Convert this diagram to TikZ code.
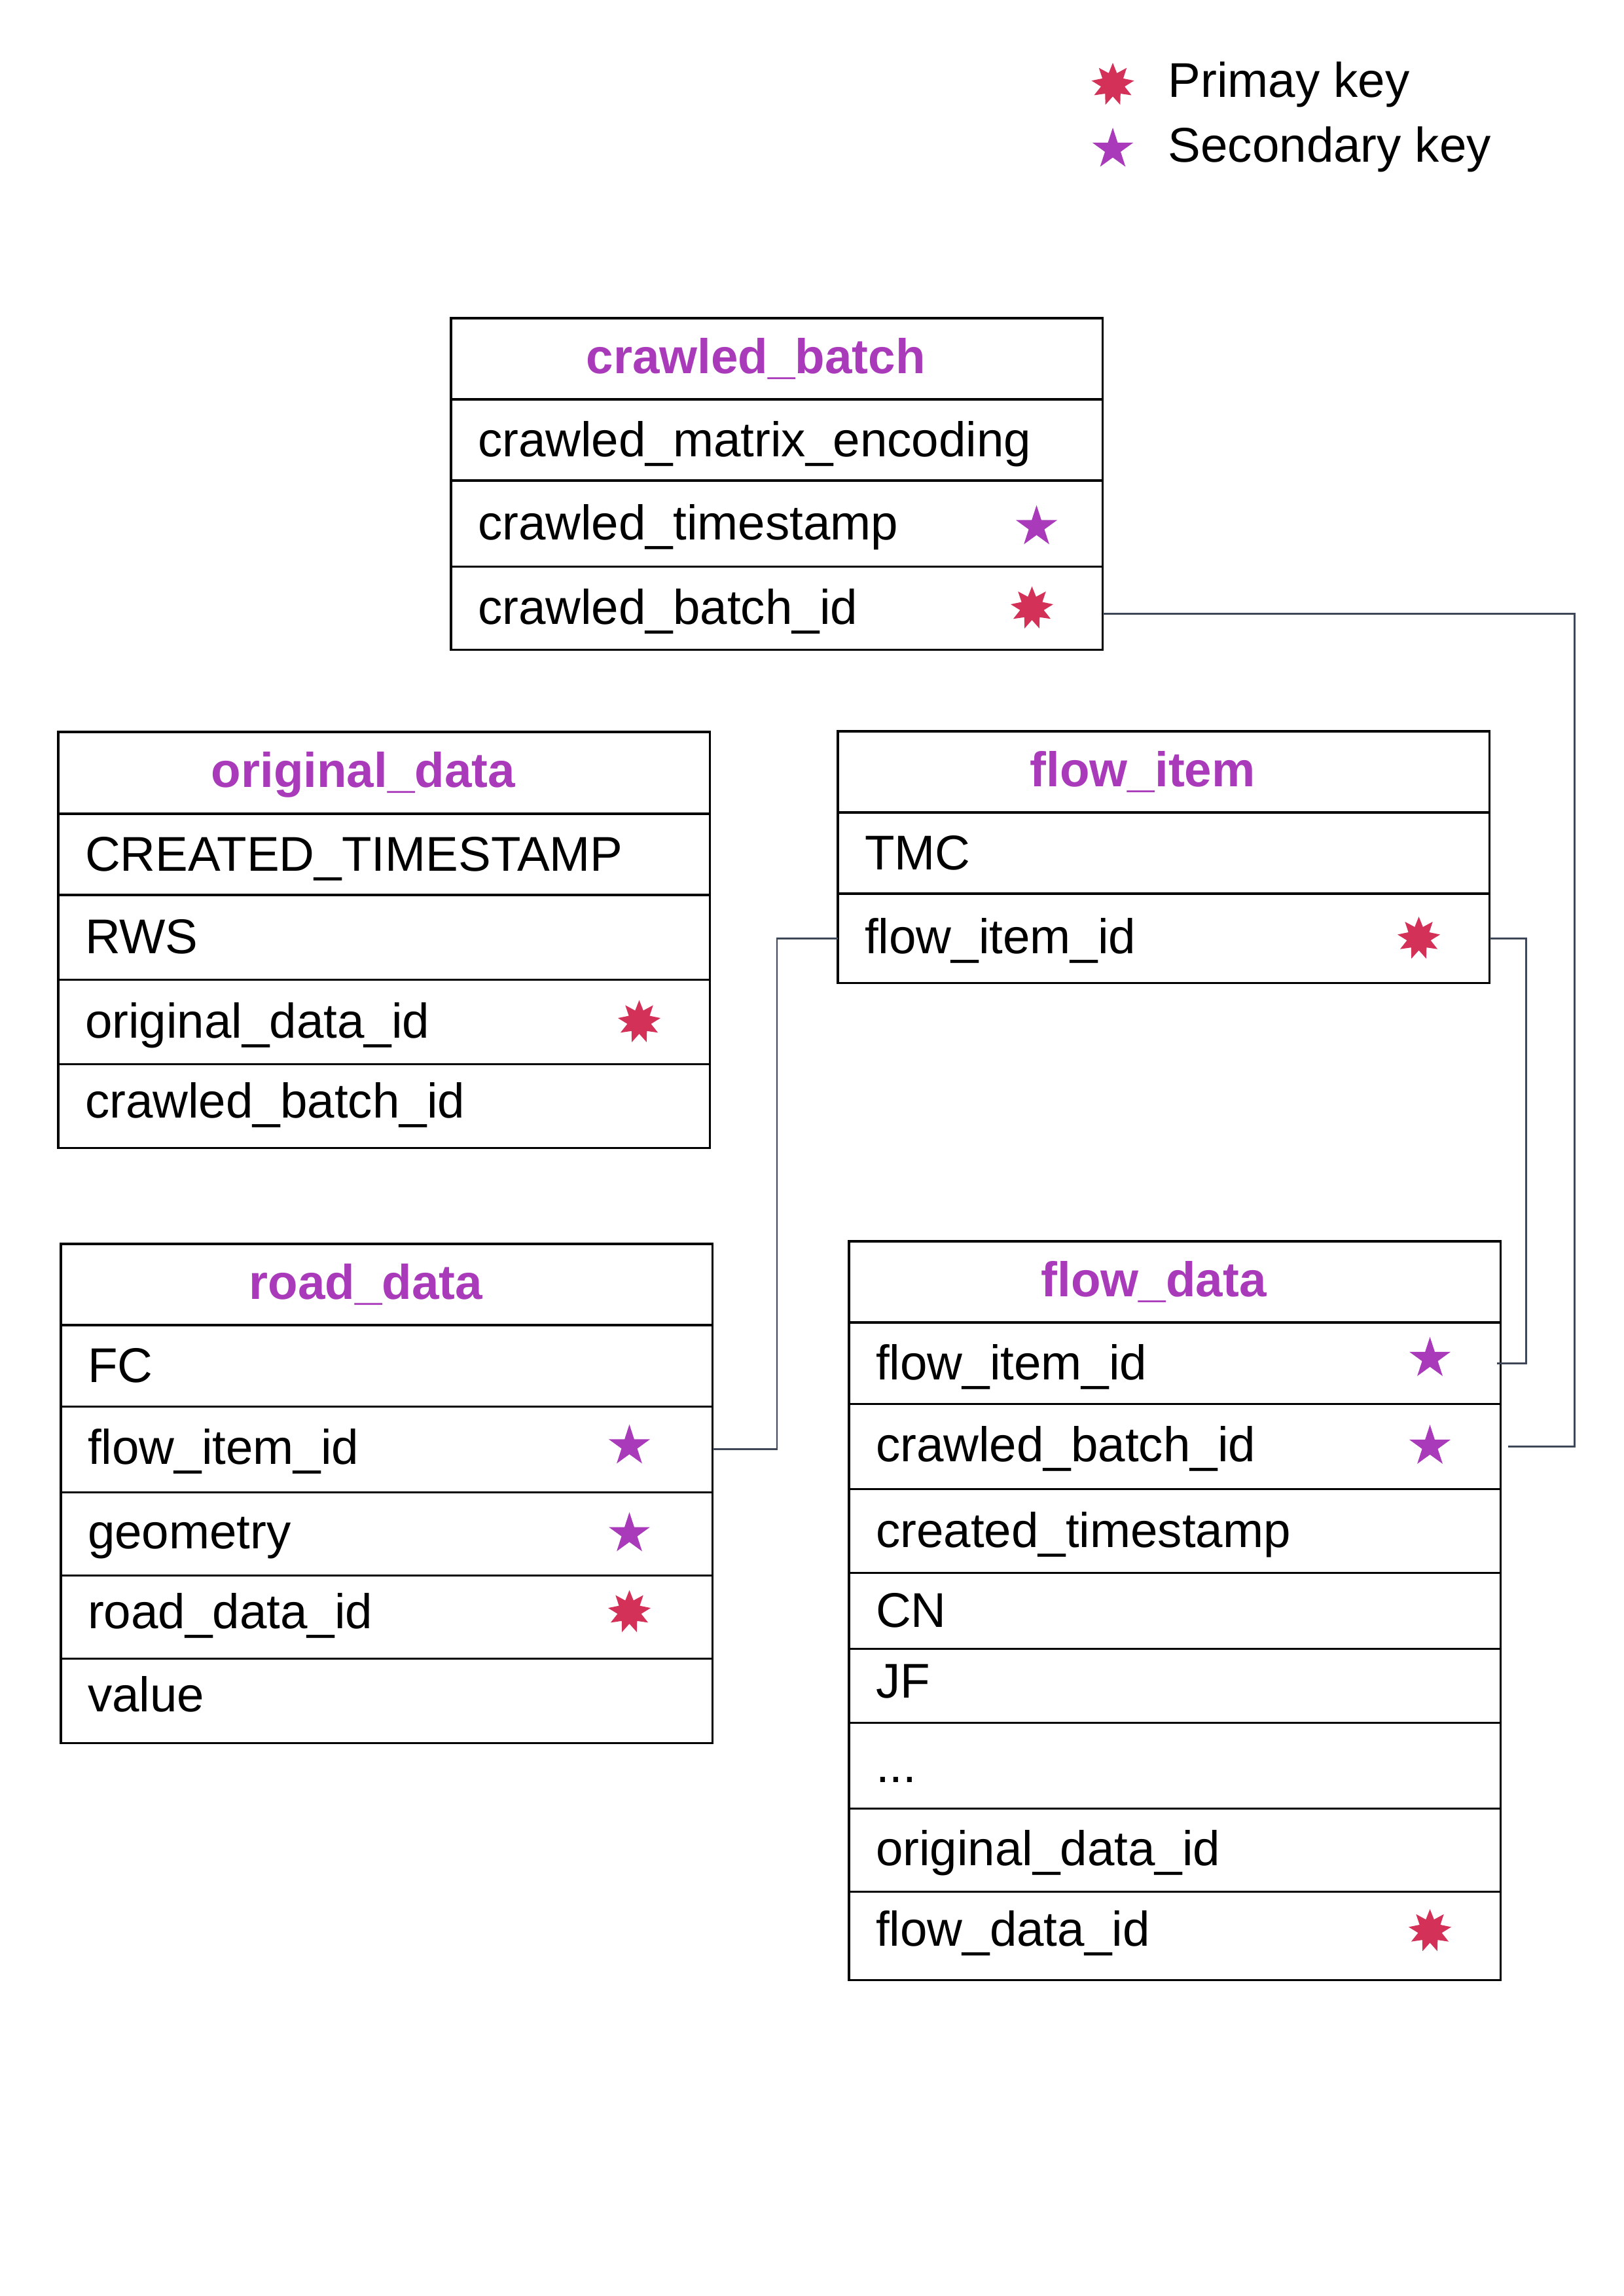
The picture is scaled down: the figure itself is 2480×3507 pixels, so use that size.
\documentclass[tikz,border=0pt]{standalone}
\usepackage{fontspec}
\setmainfont{Liberation Sans}
\usetikzlibrary{positioning,shapes.geometric}
\definecolor{titlepurple}{HTML}{A93BBA}
\definecolor{keyred}{HTML}{D33158}
\definecolor{linkgray}{HTML}{3D4758}

\begin{document}
\begin{tikzpicture}[x=0.01cm, y=-0.01cm,
  every node/.style={font=\fontsize{21.2}{25}\selectfont},
  head/.style={draw, line width=0.033cm, outer sep=0pt, inner sep=0pt,
    minimum width=9.95cm, minimum height=1.24cm, text height=0.56cm, text depth=0.12cm,
    font=\fontsize{21.2}{25}\selectfont\bfseries, text=titlepurple, anchor=north west,
    execute at end node=\hspace{0.64cm}},
  field/.style={draw, line width=0.033cm, outer sep=0pt, inner ysep=0pt, inner xsep=0.41cm,
    text width=9.13cm, align=left, text height=0.62cm, text depth=0.12cm, minimum height=#1},
  field/.default=1.27cm,
  pkey/.style={star, star points=9, star point ratio=1.8, minimum size=0.66cm,
    inner sep=0pt, fill=keyred, draw=none},
  skey/.style={star, star points=5, star point ratio=2.618, minimum size=0.66cm,
    inner sep=0pt, fill=titlepurple, draw=none},
  link/.style={draw=linkgray, line width=0.028cm},
]
  \useasboundingbox (0,0) rectangle (2480,3507);

  % Legend
  \node[pkey] (pk-mark) at (1700,129) {};
  \node[anchor=base west, inner sep=0pt] (pk-text) at (1784,149) {Primay key};
  \node[skey] (sk-mark) at (1700,228) {};
  \node[anchor=base west, inner sep=0pt] (sk-text) at (1784,248) {Secondary key};

  % crawled_batch
  \node[head] (cb-head) at (689,486) {crawled\_batch};
  \node[field=1.24cm, below=0pt of cb-head] (cb-enc) {crawled\_matrix\_encoding};
  \node[field=1.31cm, below=0pt of cb-enc] (cb-ts) {crawled\_timestamp};
  \node[field=1.27cm, below=0pt of cb-ts] (cb-id) {crawled\_batch\_id};
  \node[skey] (cb-ts-key) at ([xshift=-1.01cm, yshift=-0.05cm]cb-ts.east) {};
  \node[pkey] (cb-id-key) at ([xshift=-1.08cm]cb-id.east) {};

  % original_data
  \node[head, minimum height=1.25cm] (od-head) at (89,1118) {original\_data};
  \node[field=1.24cm, below=0pt of od-head] (od-created) {CREATED\_TIMESTAMP};
  \node[field=1.29cm, below=0pt of od-created] (od-rws) {RWS};
  \node[field=1.29cm, below=0pt of od-rws] (od-id) {original\_data\_id};
  \node[field=1.28cm, text depth=0.26cm, below=0pt of od-id] (od-cb) {crawled\_batch\_id};
  \node[pkey] (od-id-key) at ([xshift=-1.08cm]od-id.east) {};

  % flow_item
  \node[head] (fi-head) at (1280,1117) {flow\_item};
  \node[field=1.24cm, below=0pt of fi-head] (fi-tmc) {TMC};
  \node[field=1.36cm, text depth=0.16cm, below=0pt of fi-tmc] (fi-id) {flow\_item\_id};
  \node[pkey] (fi-id-key) at ([xshift=-1.08cm]fi-id.east) {};

  % road_data
  \node[head] (rd-head) at (93,1900) {road\_data};
  \node[field=1.24cm, below=0pt of rd-head] (rd-fc) {FC};
  \node[field=1.31cm, text depth=0.16cm, below=0pt of rd-fc] (rd-fi) {flow\_item\_id};
  \node[field=1.27cm, text depth=0.16cm, below=0pt of rd-fi] (rd-geom) {geometry};
  \node[field=1.27cm, text depth=0.26cm, below=0pt of rd-geom] (rd-id) {road\_data\_id};
  \node[field=1.29cm, text depth=0.28cm, below=0pt of rd-id] (rd-value) {value};
  \node[skey] (rd-fi-key) at ([xshift=-1.27cm, yshift=0.05cm]rd-fi.east) {};
  \node[skey] (rd-geom-key) at ([xshift=-1.27cm]rd-geom.east) {};
  \node[pkey] (rd-id-key) at ([xshift=-1.27cm, yshift=0.08cm]rd-id.east) {};

  % flow_data
  \node[head] (fd-head) at (1297,1896) {flow\_data};
  \node[field=1.24cm, below=0pt of fd-head] (fd-fi) {flow\_item\_id};
  \node[field=1.30cm, text depth=0.16cm, below=0pt of fd-fi] (fd-cb) {crawled\_batch\_id};
  \node[field=1.28cm, below=0pt of fd-cb] (fd-created) {created\_timestamp};
  \node[field=1.16cm, below=0pt of fd-created] (fd-cn) {CN};
  \node[field=1.13cm, text depth=0.24cm, below=0pt of fd-cn] (fd-jf) {JF};
  \node[field=1.31cm, below=0pt of fd-jf] (fd-more) {...};
  \node[field=1.27cm, text depth=0.16cm, below=0pt of fd-more] (fd-od) {original\_data\_id};
  \node[field=1.35cm, text depth=0.32cm, below=0pt of fd-od] (fd-id) {flow\_data\_id};
  \node[skey] (fd-fi-key) at ([xshift=-1.08cm, yshift=0.07cm]fd-fi.east) {};
  \node[skey] (fd-cb-key) at ([xshift=-1.08cm]fd-cb.east) {};
  \node[pkey] (fd-id-key) at ([xshift=-1.08cm, yshift=0.08cm]fd-id.east) {};

  % Links between the tables
  \draw[link] ([yshift=-0.09cm]cb-id.east) -- ++(721,0) |- ([xshift=0.11cm]fd-cb.east);
  \draw[link] (fi-id.east) -- ++(56,0) |- ([xshift=-0.06cm]fd-fi.east);
  \draw[link] (fi-id.west) -- ++(-93,0) |- (rd-fi.east);
\end{tikzpicture}
\end{document}
